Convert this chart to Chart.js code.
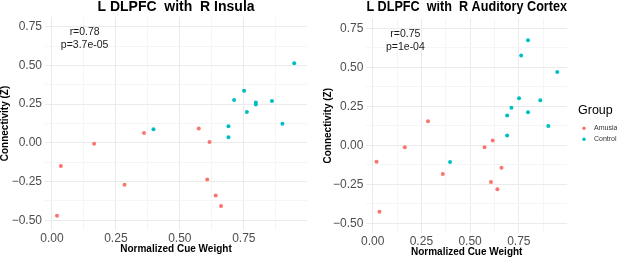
<!DOCTYPE html>
<html>
<head>
<meta charset="utf-8">
<script src="https://cdn.jsdelivr.net/npm/chart.js@4.4.0/dist/chart.umd.min.js"></script>
<style>
  html, body { margin: 0; padding: 0; background: #fff; overflow: hidden; }
  #wrap { position: relative; width: 617px; height: 258px; overflow: hidden; }
  #insula { position: absolute; left: 0; top: 0; }
  #auditory { position: absolute; left: 323px; top: 1px; }
</style>
</head>
<body>
<div id="wrap">
  <canvas id="insula" width="311" height="258"></canvas>
  <canvas id="auditory" width="294" height="258"></canvas>
</div>
<script>
// normalized cue weight, same subjects in both panels
const amusiaCue = [0.02, 0.035, 0.165, 0.284, 0.36, 0.574, 0.616, 0.607, 0.64, 0.661];
const controlCue = [0.397, 0.69, 0.69, 0.712, 0.751, 0.762, 0.797, 0.797, 0.86, 0.901, 0.947];

// connectivity (Z), L DLPFC with R Insula
const amusiaInsula = [-0.47, -0.15, -0.005, -0.27, 0.064, 0.092, 0.006, -0.236, -0.339, -0.407];
const controlInsula = [0.088, 0.107, 0.036, 0.276, 0.336, 0.199, 0.261, 0.248, 0.27, 0.124, 0.514];

// connectivity (Z), L DLPFC with R Auditory Cortex
const amusiaAuditory = [-0.105, -0.427, -0.013, 0.154, -0.184, -0.013, 0.03, -0.235, -0.282, -0.145];
const controlAuditory = [-0.107, 0.062, 0.19, 0.241, 0.301, 0.575, 0.673, 0.212, 0.288, 0.124, 0.47];

const xTicks = [0, 0.125, 0.25, 0.375, 0.5, 0.625, 0.75, 0.875];
const yTicks = [-0.5, -0.375, -0.25, -0.125, 0, 0.125, 0.25, 0.375, 0.5, 0.625, 0.75];
const majorTicks = [-0.5, -0.25, 0, 0.25, 0.5, 0.75];

const groups = ['Amusia', 'Control'];
const groupColors = ['#F8766D', '#00BFC4'];

const FONT = "'Liberation Sans', Arial, Helvetica, sans-serif";
const isMajor = v => majorTicks.some(m => Math.abs(m - v) < 1e-9);
const fmt = v => isMajor(v) ? v.toFixed(2).replace('-', '\u2212') : '';

// r / p text inside the panel
const statsText = {
  id: 'statsText',
  afterDatasetsDraw(chart, args, o) {
    const ctx = chart.ctx;
    const x = chart.scales.x.getPixelForValue(o.x);
    const y = chart.scales.y.getPixelForValue(o.y);
    ctx.save();
    ctx.font = '10.5px ' + FONT;
    ctx.fillStyle = '#1a1a1a';
    ctx.textAlign = 'center';
    ctx.textBaseline = 'middle';
    o.lines.forEach((t, i) => ctx.fillText(t, x, y + (i - (o.lines.length - 1) / 2) * 13));
    ctx.restore();
  }
};

// ggplot style legend to the right of the panel
const groupLegend = {
  id: 'groupLegend',
  afterDraw(chart, args, o) {
    if (!o.show) return;
    const ctx = chart.ctx;
    const a = chart.chartArea;
    const left = a.right + 11;
    const mid = (a.top + a.bottom) / 2;
    ctx.save();
    ctx.font = '12.5px ' + FONT;
    ctx.fillStyle = '#000';
    ctx.textBaseline = 'middle';
    ctx.fillText('Group', left, mid - 15);
    chart.data.datasets.forEach((ds, i) => {
      const yy = mid + 2.5 + i * 11;
      ctx.beginPath();
      ctx.fillStyle = ds.backgroundColor;
      ctx.arc(left + 6, yy, 1.7, 0, Math.PI * 2);
      ctx.fill();
      ctx.font = '7px ' + FONT;
      ctx.fillStyle = '#333';
      ctx.fillText(ds.label, left + 16, yy);
    });
    ctx.restore();
  }
};

function makeChart(id, title, amusiaY, controlY, cfg) {
  const ctx = document.getElementById(id).getContext('2d');
  return new Chart(ctx, {
    type: 'scatter',
    data: {
      datasets: [
        {
          label: groups[0],
          data: amusiaCue.map((x, i) => ({ x: x, y: amusiaY[i] })),
          backgroundColor: groupColors[0],
          pointRadius: 2,
          borderWidth: 0
        },
        {
          label: groups[1],
          data: controlCue.map((x, i) => ({ x: x, y: controlY[i] })),
          backgroundColor: groupColors[1],
          pointRadius: 2,
          borderWidth: 0
        }
      ]
    },
    options: {
      responsive: false,
      animation: false,
      events: [],
      layout: { padding: { left: 0, right: cfg.padRight, top: 0, bottom: 0 } },
      plugins: {
        legend: { display: false },
        tooltip: { enabled: false },
        title: {
          display: true,
          text: title,
          fullSize: false,
          color: '#000',
          font: { family: FONT, size: 14, weight: 'bold', lineHeight: cfg.titleLH },
          padding: { top: 0, bottom: cfg.titlePad }
        },
        statsText: { x: cfg.statX, y: 0.67, lines: cfg.stats },
        groupLegend: { show: cfg.legend }
      },
      scales: {
        x: {
          type: 'linear',
          min: cfg.xMin,
          max: 0.997,
          afterBuildTicks: s => { s.ticks = xTicks.map(v => ({ value: v })); },
          afterFit: s => { s.height = cfg.xHeight; },
          ticks: {
            autoSkip: false,
            maxRotation: 0,
            padding: 2,
            color: '#4D4D4D',
            font: { family: FONT, size: 12, lineHeight: 1.1 },
            callback: v => fmt(v)
          },
          grid: {
            drawTicks: false,
            color: c => isMajor(c.tick.value) ? '#EBEBEB' : '#F5F5F5',
            lineWidth: 1
          },
          border: { display: false },
          title: {
            display: true,
            text: 'Normalized Cue Weight',
            color: '#000',
            font: { family: FONT, size: 10, weight: 'bold', lineHeight: 1.2 },
            padding: { top: 0, bottom: cfg.xTitlePad }
          }
        },
        y: {
          type: 'linear',
          min: -0.5625,
          max: 0.8125,
          afterBuildTicks: s => { s.ticks = yTicks.map(v => ({ value: v })); },
          afterFit: s => { s.width = cfg.yWidth; },
          ticks: {
            autoSkip: false,
            padding: 3,
            color: '#4D4D4D',
            font: { family: FONT, size: 12 },
            callback: v => fmt(v)
          },
          grid: {
            drawTicks: false,
            color: c => isMajor(c.tick.value) ? '#EBEBEB' : '#F5F5F5',
            lineWidth: 1
          },
          border: { display: false },
          title: {
            display: true,
            text: 'Connectivity (Z)',
            color: '#000',
            font: { family: FONT, size: 10, weight: 'bold', lineHeight: 1 },
            padding: { top: 0, bottom: 0 }
          }
        }
      }
    },
    plugins: [statsText, groupLegend]
  });
}

makeChart('insula', 'L DLPFC  with  R Insula', amusiaInsula, controlInsula, {
  padRight: 1, titleLH: 1, titlePad: 3, xMin: -0.027, statX: 0.128,
  stats: ['r=0.78', 'p=3.7e-05'], legend: false,
  xHeight: 28, yWidth: 45, xTitlePad: 3
});

makeChart('auditory', 'L DLPFC  with  R Auditory Cortex', amusiaAuditory, controlAuditory, {
  padRight: 50, titleLH: 0.9, titlePad: 4.9, xMin: -0.032, statX: 0.168,
  stats: ['r=0.75', 'p=1e-04'], legend: true,
  xHeight: 26, yWidth: 43.4, xTitlePad: 1
});
</script>
</body>
</html>
